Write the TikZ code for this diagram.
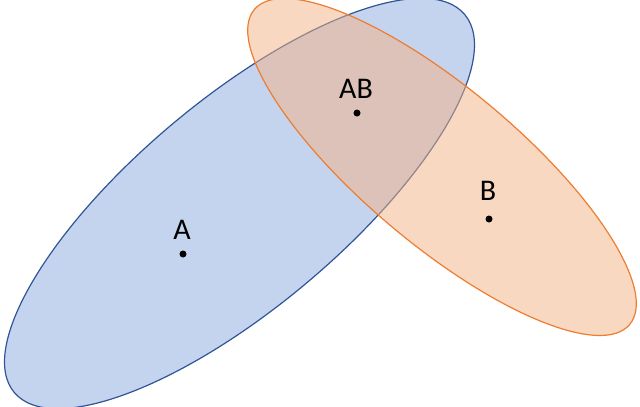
\documentclass[tikz,border=0pt]{standalone}
\usepackage{fontspec}
\setmainfont{Carlito}
\definecolor{bfill}{HTML}{C5D4EE}
\definecolor{bline}{HTML}{2F5597}
\definecolor{ofill}{HTML}{F4B183}
\definecolor{oline}{HTML}{ED7D31}
\begin{document}
\begin{tikzpicture}[x=1pt,y=-1pt,
  lab/.style={font=\fontsize{30}{32}\selectfont, inner sep=0pt},
  pt/.style={circle, fill=black, inner sep=0pt, minimum size=7pt}]
\useasboundingbox (0,0) rectangle (640,407);
\draw[bline, line width=1.2pt, fill=bfill] (239.5,203.5) ellipse [x radius=294, y radius=104, rotate=40];
\path[fill=ofill, fill opacity=0.5] (442,167) ellipse [x radius=245, y radius=78, rotate=-40];
\draw[oline, line width=1.2pt] (442,167) ellipse [x radius=245, y radius=78, rotate=-40];
\node[lab] (la) at (182,230) {A};
\node[pt] (pa) at (183,254) {};
\node[lab] (lab) at (356,89) {AB};
\node[pt] (pab) at (357,113) {};
\node[lab] (lb) at (488,191) {B};
\node[pt] (pb) at (489,219) {};
\end{tikzpicture}
\end{document}
